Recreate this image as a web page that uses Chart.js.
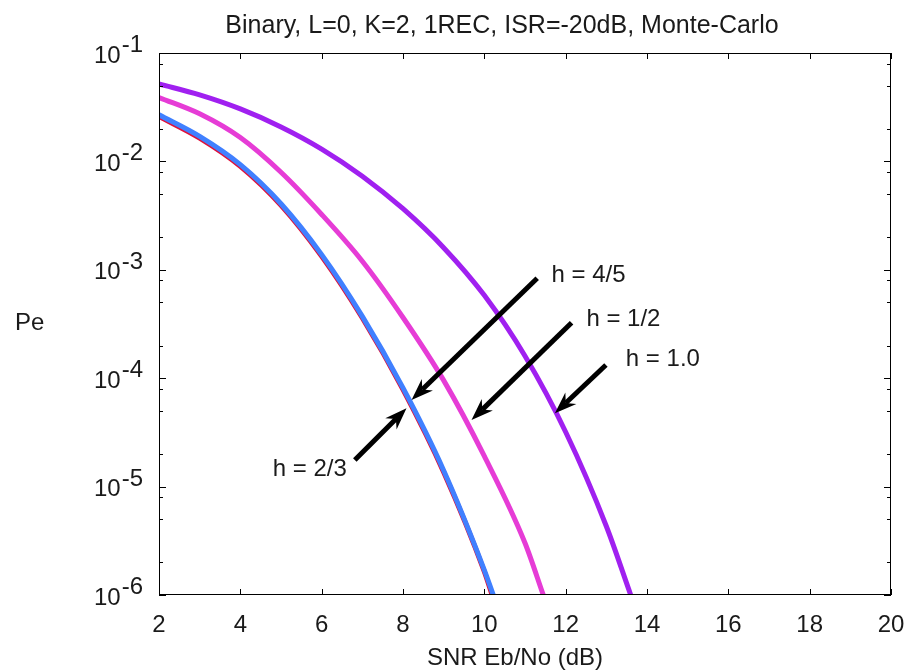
<!DOCTYPE html>
<html><head><meta charset="utf-8">
<script src="https://cdn.jsdelivr.net/npm/chart.js@4/dist/chart.umd.min.js"></script>
<style>html,body{margin:0;padding:0;background:#fff;} #wrap{width:905px;height:671px;}</style>
</head><body><div id="wrap"><canvas id="c" width="905" height="671"></canvas></div>
<script>
// ---- text ----
const titleText = 'Binary, L=0, K=2, 1REC, ISR=-20dB, Monte-Carlo';
const xTitleText = 'SNR Eb/No (dB)';
const yTitleText = 'Pe';

// ---- axes ----
const xTicks = [2, 4, 6, 8, 10, 12, 14, 16, 18, 20];
const yExponents = [-1, -2, -3, -4, -5, -6];
const yMinorMultipliers = [2, 5, 8];

// ---- series (SNR in dB, Pe) ----
const snrH10 = [2, 3, 4, 5, 6, 7, 8, 9, 10, 11, 12, 13, 13.6];
const peH10  = [0.0518, 0.0411, 0.0305, 0.0208, 0.0130, 0.00731, 0.00366, 0.00160, 5.81e-4, 1.60e-4, 3.19e-5, 4.31e-6, 1e-6];

const snrH12 = [2, 3, 4, 5, 6, 7, 8, 9, 10, 11, 11.45];
const peH12  = [0.0389, 0.0275, 0.0166, 0.00794, 0.00324, 0.00120, 3.63e-4, 9.55e-5, 1.91e-5, 3.02e-6, 1e-6];

const snrH23 = [2, 3, 4, 5, 6, 7, 8, 9, 10, 10.22];
const peH23  = [0.0269, 0.0170, 0.00933, 0.00407, 0.00138, 3.72e-4, 8.13e-5, 1.41e-5, 1.70e-6, 1e-6];

const snrH45 = [2, 3, 4, 5, 6, 7, 8, 9, 10, 10.19];
const peH45  = [0.0260, 0.0164, 0.00901, 0.00393, 0.00133, 3.59e-4, 7.85e-5, 1.36e-5, 1.64e-6, 1e-6];

// ---- annotations (data coordinates) ----
const annLabels   = ['h = 4/5', 'h = 1/2', 'h = 1.0', 'h = 2/3'];
const annTailSnr  = [11.30, 12.145, 12.99, 6.815];
const annTailPe   = [8.36e-4, 3.25e-4, 1.325e-4, 1.76e-5];
const annTipSnr   = [8.21, 9.685, 11.735, 8.086];
const annTipPe    = [6.3e-5, 4.11e-5, 4.74e-5, 5.27e-5];
const annTextSnr  = [11.65, 12.51, 13.48, 6.62];
const annTextPe   = [7.76e-4, 3.03e-4, 1.3e-4, 1.25e-5];
const annTextAlign = ['left', 'left', 'left', 'right'];

const pts = (xs, ys) => xs.map((v, i) => ({x: v, y: ys[i]}));

const FONT = '24px "Liberation Sans", Arial, sans-serif';
const TITLE_FONT = '25px "Liberation Sans", Arial, sans-serif';

function drawArrow(ctx, x1, y1, x2, y2) {
  const ang = Math.atan2(y2 - y1, x2 - x1);
  const L = 22, W = 8, notch = 15;
  const c = Math.cos(ang), s = Math.sin(ang);
  const bx = x2 - c * notch, by = y2 - s * notch;
  ctx.lineWidth = 5;
  ctx.lineCap = 'butt';
  ctx.beginPath(); ctx.moveTo(x1, y1); ctx.lineTo(bx, by); ctx.stroke();
  const px = -s, py = c;
  const hx = x2 - c * L, hy = y2 - s * L;
  ctx.beginPath();
  ctx.moveTo(x2, y2);
  ctx.lineTo(hx + px * W, hy + py * W);
  ctx.lineTo(bx, by);
  ctx.lineTo(hx - px * W, hy - py * W);
  ctx.closePath();
  ctx.fill();
}

const decor = {
  id: 'decor',
  afterDatasetsDraw(chart) {
    const {ctx, chartArea: a, scales: {x, y}} = chart;
    ctx.save();
    ctx.strokeStyle = '#000'; ctx.fillStyle = '#000';
    annLabels.forEach((t, i) => {
      drawArrow(ctx, x.getPixelForValue(annTailSnr[i]), y.getPixelForValue(annTailPe[i]),
                     x.getPixelForValue(annTipSnr[i]), y.getPixelForValue(annTipPe[i]));
    });
    ctx.font = FONT; ctx.fillStyle = '#1a1a1a'; ctx.textBaseline = 'alphabetic';
    annLabels.forEach((t, i) => {
      ctx.textAlign = annTextAlign[i];
      ctx.fillText(t, x.getPixelForValue(annTextSnr[i]), y.getPixelForValue(annTextPe[i]));
    });

    // frame
    ctx.strokeStyle = '#000'; ctx.lineWidth = 1;
    ctx.strokeRect(a.left + 0.5, a.top + 0.5, a.right - a.left - 1, a.bottom - a.top - 1);

    ctx.beginPath();
    xTicks.forEach(v => {
      const px = Math.round(x.getPixelForValue(v)) + 0.5;
      ctx.moveTo(px, a.bottom); ctx.lineTo(px, a.bottom - 6);
      ctx.moveTo(px, a.top); ctx.lineTo(px, a.top + 6);
    });
    yExponents.forEach(e => {
      const py = Math.round(y.getPixelForValue(Math.pow(10, e))) + 0.5;
      ctx.moveTo(a.left, py); ctx.lineTo(a.left + 7, py);
      ctx.moveTo(a.right, py); ctx.lineTo(a.right - 7, py);
      if (e < -1) {
        yMinorMultipliers.forEach(m => {
          const pm = Math.round(y.getPixelForValue(m * Math.pow(10, e))) + 0.5;
          ctx.moveTo(a.left, pm); ctx.lineTo(a.left + 4, pm);
          ctx.moveTo(a.right, pm); ctx.lineTo(a.right - 4, pm);
        });
      }
    });
    ctx.stroke();

    ctx.fillStyle = '#1a1a1a';
    ctx.font = FONT;
    ctx.textAlign = 'center';
    xTicks.forEach(v => ctx.fillText(String(v), x.getPixelForValue(v), a.bottom + 37));
    yExponents.forEach(e => {
      const py = y.getPixelForValue(Math.pow(10, e));
      const sup = String(e);
      ctx.textAlign = 'right';
      ctx.fillText(sup, a.left - 16, py - 1);
      const w = ctx.measureText(sup).width;
      ctx.fillText('10', a.left - 16 - w - 1, py + 9.5);
    });

    ctx.textAlign = 'center';
    ctx.fillText(xTitleText, 515, 665);
    ctx.font = TITLE_FONT;
    ctx.fillText(titleText, 502, 33);
    ctx.font = FONT;
    ctx.textAlign = 'left';
    ctx.fillText(yTitleText, 15, 330);
    ctx.restore();
  }
};

new Chart(document.getElementById('c'), {
  type: 'line',
  data: {
    datasets: [
      {label: 'h = 2/3', data: pts(snrH23, peH23), borderColor: '#4080ff', order: 0},
      {label: 'h = 4/5', data: pts(snrH45, peH45), borderColor: '#e0103a', order: 1},
      {label: 'h = 1/2', data: pts(snrH12, peH12), borderColor: '#e63cd6', order: 2},
      {label: 'h = 1.0', data: pts(snrH10, peH10), borderColor: '#a020f0', order: 3}
    ]
  },
  options: {
    responsive: false,
    animation: false,
    devicePixelRatio: 1,
    layout: {padding: {left: 159, top: 53, right: 14, bottom: 76}},
    plugins: {legend: {display: false}, tooltip: {enabled: false}, title: {display: false}},
    elements: {
      point: {radius: 0},
      line: {borderWidth: 5, cubicInterpolationMode: 'monotone', fill: false, borderCapStyle: 'butt'}
    },
    scales: {
      x: {type: 'linear', min: 2, max: 20, display: false},
      y: {type: 'logarithmic', min: 1e-6, max: 1e-1, display: false}
    }
  },
  plugins: [decor]
});
</script>
</body></html>
